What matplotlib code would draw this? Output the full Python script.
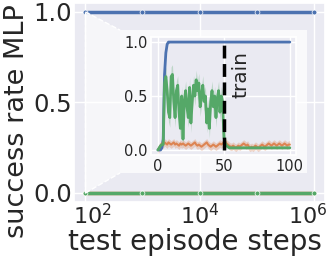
import matplotlib
matplotlib.use("Agg")
import matplotlib.pyplot as plt
import seaborn as sns
from matplotlib.patches import Polygon, Rectangle
from matplotlib.transforms import ScaledTranslation

sns.set_theme(style="darkgrid")
plt.rcParams['font.family'] = ['DejaVu Sans']

# main plot: success rate vs test episode length (log x)
steps = [1e2, 1e3, 1e4, 1e5, 1e6]
main_blue = [1.0, 1.0, 1.0, 1.0, 1.0]
main_orange = [0.0, 0.0, 0.0, 0.0, 0.0]
main_green = [0.0, 0.0, 0.0, 0.0, 0.0]

# inset: first 100 steps
inset_x = list(range(101))
inset_blue = [0.0, 0.0, 0.0, 0.02, 0.1, 0.7, 0.9, 0.98] + [1.0] * 93
inset_green = [0.0, 0.02, 0.04, 0.05, 0.05, 0.62, 0.68, 0.55, 0.35, 0.3,
               0.68, 0.7, 0.45, 0.3, 0.55, 0.6, 0.35, 0.2, 0.5, 0.1,
               0.45, 0.55, 0.4, 0.3, 0.58, 0.25, 0.45, 0.6, 0.5, 0.65,
               0.55, 0.62, 0.4, 0.5, 0.6, 0.45, 0.5, 0.25, 0.38, 0.2,
               0.45, 0.55, 0.4, 0.5, 0.3, 0.48, 0.55, 0.35, 0.5, 0.45,
               0.12, 0.06, 0.04, 0.03, 0.02] + [0.02] * 46
inset_orange = [0.0, 0.02, 0.04, 0.06, 0.05, 0.07, 0.06, 0.05, 0.07, 0.06,
                0.05, 0.06, 0.07, 0.05, 0.06, 0.05, 0.04, 0.06, 0.05, 0.06,
                0.05, 0.04, 0.05, 0.06, 0.05, 0.04, 0.05, 0.06, 0.07, 0.05,
                0.04, 0.05, 0.04, 0.03, 0.04, 0.05, 0.06, 0.07, 0.05, 0.04,
                0.03, 0.04, 0.05, 0.04, 0.03, 0.04, 0.05, 0.06, 0.05, 0.06,
                0.07, 0.08, 0.06, 0.05, 0.04, 0.03, 0.03, 0.04, 0.03, 0.02,
                0.03, 0.04, 0.03, 0.04, 0.05, 0.06, 0.05, 0.04, 0.05, 0.03,
                0.02, 0.03, 0.02, 0.03, 0.04, 0.03, 0.02, 0.03, 0.04, 0.05,
                0.04, 0.03, 0.04, 0.05, 0.06, 0.05, 0.04, 0.05, 0.06, 0.05,
                0.04, 0.05, 0.06, 0.05, 0.04, 0.05, 0.06, 0.05, 0.04, 0.05, 0.05]
green_spread = [0.02] * 5 + [0.09] * 47 + [0.01] * 49
orange_spread = 0.035
train_end = 50

blue, orange, green = sns.color_palette("deep")[:3]

fig = plt.figure(figsize=(3.29, 2.62), dpi=100)
ax = fig.add_axes([0.225, 0.229, 0.763, 0.76])
mk = dict(marker="o", ms=3.5, mec="white", mew=0.5, lw=2.5)
ax.plot(steps, main_blue, color=blue, **mk)
ax.plot(steps, main_orange, color=orange, **mk)
ax.plot(steps, main_green, color=green, **mk)
ax.set_xscale("log")
ax.set_xlim(10 ** 1.8, 10 ** 6.2)
ax.set_ylim(-0.05, 1.05)
ax.set_xticks([1e2, 1e4, 1e6])
ax.set_yticks([0.0, 0.5, 1.0])
ax.minorticks_off()
ax.tick_params(axis="y", labelsize=17.5, pad=1.5, length=0)
ax.tick_params(axis="x", labelsize=16, pad=0.5, length=0)
# outer x labels sit slightly inward in the original
for tick, dx in zip(ax.xaxis.get_major_ticks(), [7, 0, -6]):
    lab = tick.label1
    lab.set_transform(lab.get_transform() + ScaledTranslation(dx / 100, 0, fig.dpi_scale_trans))
ax.set_xlabel("test episode steps", fontsize=20)
ax.set_ylabel("success rate MLP", fontsize=19.5)
ax.xaxis.set_label_coords(0.48, -0.13)
ax.yaxis.set_label_coords(-0.175, 0.407)

# white box behind the inset and its tick labels
box = [0.365, 0.340, 0.568, 0.545]
fig.patches.append(Rectangle((box[0], box[1]), box[2], box[3], transform=fig.transFigure,
                             facecolor="white", alpha=0.75, edgecolor="none", zorder=1))

# zoom connector: from x=100 on main axes to left side of the box
to_fig = ax.transData + fig.transFigure.inverted()
p_top = to_fig.transform((1e2, 1.0))
p_bot = to_fig.transform((1e2, 0.0))
corners = [p_top, (box[0], box[1] + box[3]), (box[0], box[1]), p_bot]
fig.patches.append(Polygon(corners, closed=True, transform=fig.transFigure,
                           facecolor="white", alpha=0.6, edgecolor="none", zorder=1))
for a, b in [(p_top, (box[0], box[1] + box[3])), (p_bot, (box[0], box[1])), (p_top, p_bot)]:
    fig.lines.append(plt.Line2D([a[0], b[0]], [a[1], b[1]], transform=fig.transFigure,
                                color="white", ls="--", lw=1, zorder=1))

ins = fig.add_axes([0.460, 0.407, 0.441, 0.453])
ins.set_zorder(2)
ins.plot(inset_x, inset_blue, color=blue, lw=2)
ins.fill_between(inset_x, [v - orange_spread for v in inset_orange],
                 [v + orange_spread for v in inset_orange], color=orange, alpha=0.3, lw=0)
ins.plot(inset_x, inset_orange, color=orange, lw=1.5)
ins.fill_between(inset_x, [max(v - s, 0) for v, s in zip(inset_green, green_spread)],
                 [v + s for v, s in zip(inset_green, green_spread)], color=green, alpha=0.3, lw=0)
ins.plot(inset_x, inset_green, color=green, lw=2)
ins.plot([train_end, train_end], [0, 1], color="black", ls="--", lw=2.5)
ins.text(train_end + 6, 0.48, "train", rotation=90, fontsize=14.5, ha="left", va="bottom")
ins.set_xlim(-5, 105)
ins.set_ylim(-0.05, 1.05)
ins.set_xticks([0, 50, 100])
ins.set_yticks([0.0, 0.5, 1.0])
ins.tick_params(labelsize=10.5, pad=2.5, length=0)

fig.savefig("out.png", dpi=100)
